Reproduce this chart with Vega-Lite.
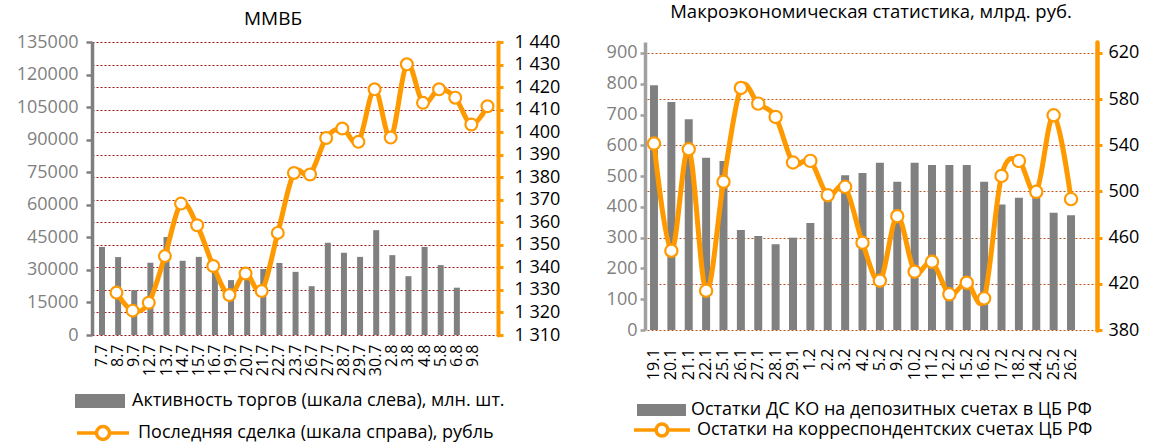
{
  "$schema": "https://vega.github.io/schema/vega-lite/v6.json",
  "background": "white",
  "padding": {"left": 16, "top": 2, "right": 0, "bottom": 0},
  "config": {
    "font": "Open Sans",
    "view": {"stroke": null},
    "axis": {"labelFont": "Open Sans", "titleFont": "Open Sans"},
    "legend": {"labelFont": "Open Sans"}
  },
  "datasets": {
    "mmvb": [
      {"d": "7.7", "bar": 40600, "price": 1328.8},
      {"d": "8.7", "bar": 35900, "price": 1320.8},
      {"d": "9.7", "bar": 20700, "price": 1324.3},
      {"d": "12.7", "bar": 33300, "price": 1345.0},
      {"d": "13.7", "bar": 45200, "price": 1368.3},
      {"d": "14.7", "bar": 34200, "price": 1358.7},
      {"d": "15.7", "bar": 36000, "price": 1340.6},
      {"d": "16.7", "bar": 29000, "price": 1327.7},
      {"d": "19.7", "bar": 25300, "price": 1337.3},
      {"d": "20.7", "bar": 25500, "price": 1329.5},
      {"d": "21.7", "bar": 30400, "price": 1355.3},
      {"d": "22.7", "bar": 33200, "price": 1381.9},
      {"d": "23.7", "bar": 29100, "price": 1381.2},
      {"d": "26.7", "bar": 22500, "price": 1397.4},
      {"d": "27.7", "bar": 42500, "price": 1401.6},
      {"d": "28.7", "bar": 37900, "price": 1395.7},
      {"d": "29.7", "bar": 36000, "price": 1419.0},
      {"d": "30.7", "bar": 48300, "price": 1397.6},
      {"d": "2.8", "bar": 36800, "price": 1430.1},
      {"d": "3.8", "bar": 27100, "price": 1413.0},
      {"d": "4.8", "bar": 40600, "price": 1419.0},
      {"d": "5.8", "bar": 32200, "price": 1415.3},
      {"d": "6.8", "bar": 21800, "price": 1403.4},
      {"d": "9.8", "bar": null, "price": 1411.5}
    ],
    "macro": [
      {"d": "19.1", "dep": 795, "cor": 541.5},
      {"d": "20.1", "dep": 741, "cor": 448.6},
      {"d": "21.1", "dep": 685, "cor": 536.6},
      {"d": "22.1", "dep": 560, "cor": 414.0},
      {"d": "25.1", "dep": 549, "cor": 508.4},
      {"d": "26.1", "dep": 325, "cor": 589.7},
      {"d": "27.1", "dep": 305, "cor": 576.1},
      {"d": "28.1", "dep": 279, "cor": 564.6},
      {"d": "29.1", "dep": 300, "cor": 525.1},
      {"d": "1.2", "dep": 348, "cor": 526.5},
      {"d": "2.2", "dep": 440, "cor": 496.8},
      {"d": "3.2", "dep": 503, "cor": 504.0},
      {"d": "4.2", "dep": 510, "cor": 455.6},
      {"d": "5.2", "dep": 543, "cor": 422.7},
      {"d": "9.2", "dep": 482, "cor": 478.6},
      {"d": "10.2", "dep": 543, "cor": 430.5},
      {"d": "11.2", "dep": 536, "cor": 439.1},
      {"d": "12.2", "dep": 536, "cor": 410.9},
      {"d": "15.2", "dep": 536, "cor": 421.0},
      {"d": "16.2", "dep": 482, "cor": 407.4},
      {"d": "17.2", "dep": 408, "cor": 513.5},
      {"d": "18.2", "dep": 430, "cor": 526.5},
      {"d": "24.2", "dep": 445, "cor": 499.7},
      {"d": "25.2", "dep": 381, "cor": 566.0},
      {"d": "26.2", "dep": 373, "cor": 493.4}
    ]
  },
  "spacing": 46,
  "align": "none",
  "hconcat": [
    {
      "width": 406,
      "height": 293,
      "data": {"name": "mmvb"},
      "title": {"text": "ММВБ", "fontSize": 19, "fontWeight": "normal", "color": "#000000", "font": "Open Sans", "offset": 4, "dx": -22},
      "encoding": {
        "x": {
          "field": "d", "type": "nominal", "sort": null,
          "scale": {"type": "band", "paddingInner": 0.628, "paddingOuter": 0.899, "align": 0.241},
          "axis": {"title": null, "labelAngle": -90, "labelFontSize": 16, "labelColor": "#000000", "domain": false, "ticks": false, "tickSize": 0, "labelPadding": 9, "labelOverlap": false}
        }
      },
      "layer": [
        {
          "mark": {"type": "bar", "color": "#808080"},
          "encoding": {
            "y": {
              "field": "bar", "type": "quantitative",
              "scale": {"domain": [0, 135000], "nice": false, "zero": true},
              "axis": {"title": null, "orient": "left", "values": [0, 15000, 30000, 45000, 60000, 75000, 90000, 105000, 120000, 135000], "format": "d", "labelFontSize": 18, "labelColor": "#7f7f7f", "domainColor": "#7f7f7f", "domainWidth": 3.5, "tickColor": "#7f7f7f", "tickSize": 6, "tickWidth": 2.5, "labelPadding": 8, "grid": false}
            },
            "fill": {
              "datum": "Активность торгов (шкала слева), млн. шт.",
              "scale": {"range": ["#808080"]},
              "legend": {"title": null, "orient": "none", "legendX": -17, "legendY": 334, "padding": 0, "symbolType": "M-1,-0.28H1V0.28H-1Z", "symbolSize": 2500, "symbolStrokeWidth": 0, "labelFontSize": 18, "labelColor": "#000000", "labelOffset": 7, "labelLimit": 600}
            }
          }
        },
        {
          "encoding": {
            "y": {
              "field": "price", "type": "quantitative",
              "scale": {"domain": [1310, 1440], "nice": false, "zero": false},
              "axis": {"title": null, "orient": "right", "values": [1310, 1320, 1330, 1340, 1350, 1360, 1370, 1380, 1390, 1400, 1410, 1420, 1430, 1440], "labelExpr": "replace(format(datum.value, ','), ',', ' ')", "labelFontSize": 18, "labelColor": "#000000", "domainColor": "#FF9900", "domainWidth": 4, "domainCap": "round", "tickColor": "#FF9900", "tickSize": 5, "tickWidth": 3, "labelPadding": 11, "grid": true, "gridColor": "#a01010", "gridDash": [2, 2], "gridWidth": 1}
            }
          },
          "layer": [
            {
              "mark": {"type": "line", "interpolate": "cardinal", "strokeWidth": 5, "xOffset": 14.5},
              "encoding": {
                "stroke": {
                  "datum": "Последняя сделка (шкала справа), рубль",
                  "scale": {"range": ["#FF9900"]},
                  "legend": {"title": null, "orient": "none", "legendX": -17, "legendY": 363, "padding": 0, "symbolType": "M-1,0H-0.25M0.25,0H1M-0.25,0A0.25,0.25,0,1,1,0.25,0A0.25,0.25,0,1,1,-0.25,0Z", "symbolSize": 2704, "symbolStrokeWidth": 3.5, "symbolFillColor": "white", "labelFontSize": 18, "labelColor": "#000000", "labelOffset": 7, "labelLimit": 600, "encode": {"symbols": {"update": {"fill": {"value": "white"}, "strokeWidth": {"value": 3.5}}}}}
                }
              }
            },
            {
              "mark": {"type": "point", "shape": "circle", "filled": true, "fill": "white", "stroke": "#FF9900", "strokeWidth": 2.2, "size": 140, "opacity": 1, "xOffset": 14.5}
            }
          ]
        }
      ],
      "resolve": {"scale": {"y": "independent", "fill": "independent", "stroke": "independent"}, "axis": {"y": "independent"}}
    },
    {
      "width": 452,
      "height": 288,
      "data": {"name": "macro"},
      "title": {"text": "Макроэкономическая статистика, млрд. руб.", "fontSize": 18.5, "fontWeight": "normal", "color": "#000000", "font": "Open Sans", "offset": 21},
      "encoding": {
        "x": {
          "field": "d", "type": "nominal", "sort": null,
          "scale": {"type": "band", "paddingInner": 0.54, "paddingOuter": 0.776, "align": 0.185},
          "axis": {"title": null, "labelAngle": -90, "labelFontSize": 16, "labelColor": "#000000", "domain": false, "ticks": false, "tickSize": 0, "labelPadding": 18, "labelOverlap": false}
        }
      },
      "layer": [
        {
          "mark": {"type": "bar", "color": "#808080"},
          "encoding": {
            "y": {
              "field": "dep", "type": "quantitative",
              "scale": {"domain": [0, 935.7], "nice": false, "zero": true},
              "axis": {"title": null, "orient": "left", "values": [0, 100, 200, 300, 400, 500, 600, 700, 800, 900], "format": "d", "labelFontSize": 18, "labelColor": "#7f7f7f", "domainColor": "#a0a0a0", "domainWidth": 3.5, "tickColor": "#a0a0a0", "tickSize": 5, "tickWidth": 2.5, "labelPadding": 3, "grid": false}
            },
            "fill": {
              "datum": "Остатки ДС КО на депозитных счетах в ЦБ РФ",
              "scale": {"range": ["#808080"]},
              "legend": {"title": null, "orient": "none", "legendX": -8, "legendY": 343.5, "padding": 0, "symbolType": "M-1,-0.245H1V0.245H-1Z", "symbolSize": 2401, "symbolStrokeWidth": 0, "labelFontSize": 18, "labelColor": "#000000", "labelOffset": 5, "labelLimit": 600}
            }
          }
        },
        {
          "encoding": {
            "y": {
              "field": "cor", "type": "quantitative",
              "scale": {"domain": [380, 629.5], "nice": false, "zero": false},
              "axis": {"title": null, "orient": "right", "values": [380, 420, 460, 500, 540, 580, 620], "format": "d", "labelFontSize": 18, "labelColor": "#000000", "domainColor": "#FF9900", "domainWidth": 4.5, "domainCap": "round", "tickColor": "#FF9900", "tickSize": 5, "tickWidth": 3, "labelPadding": 6, "grid": true, "gridColor": "#c0501a", "gridDash": [2, 2], "gridWidth": 1}
            }
          },
          "layer": [
            {
              "mark": {"type": "line", "interpolate": "cardinal", "strokeWidth": 5},
              "encoding": {
                "stroke": {
                  "datum": "Остатки на корреспондентских счетах ЦБ РФ",
                  "scale": {"range": ["#FF9900"]},
                  "legend": {"title": null, "orient": "none", "legendX": -13, "legendY": 358, "padding": 0, "symbolType": "M-1,0H-0.21M0.21,0H1M-0.21,0A0.21,0.21,0,1,1,0.21,0A0.21,0.21,0,1,1,-0.21,0Z", "symbolSize": 3136, "symbolStrokeWidth": 3.5, "symbolFillColor": "white", "labelFontSize": 18, "labelColor": "#000000", "labelOffset": 5, "labelLimit": 600, "encode": {"symbols": {"update": {"fill": {"value": "white"}, "strokeWidth": {"value": 3.5}}}}}
                }
              }
            },
            {
              "mark": {"type": "point", "shape": "circle", "filled": true, "fill": "white", "stroke": "#FF9900", "strokeWidth": 2.2, "size": 150, "opacity": 1}
            }
          ]
        }
      ],
      "resolve": {"scale": {"y": "independent", "fill": "independent", "stroke": "independent"}, "axis": {"y": "independent"}}
    }
  ]
}
